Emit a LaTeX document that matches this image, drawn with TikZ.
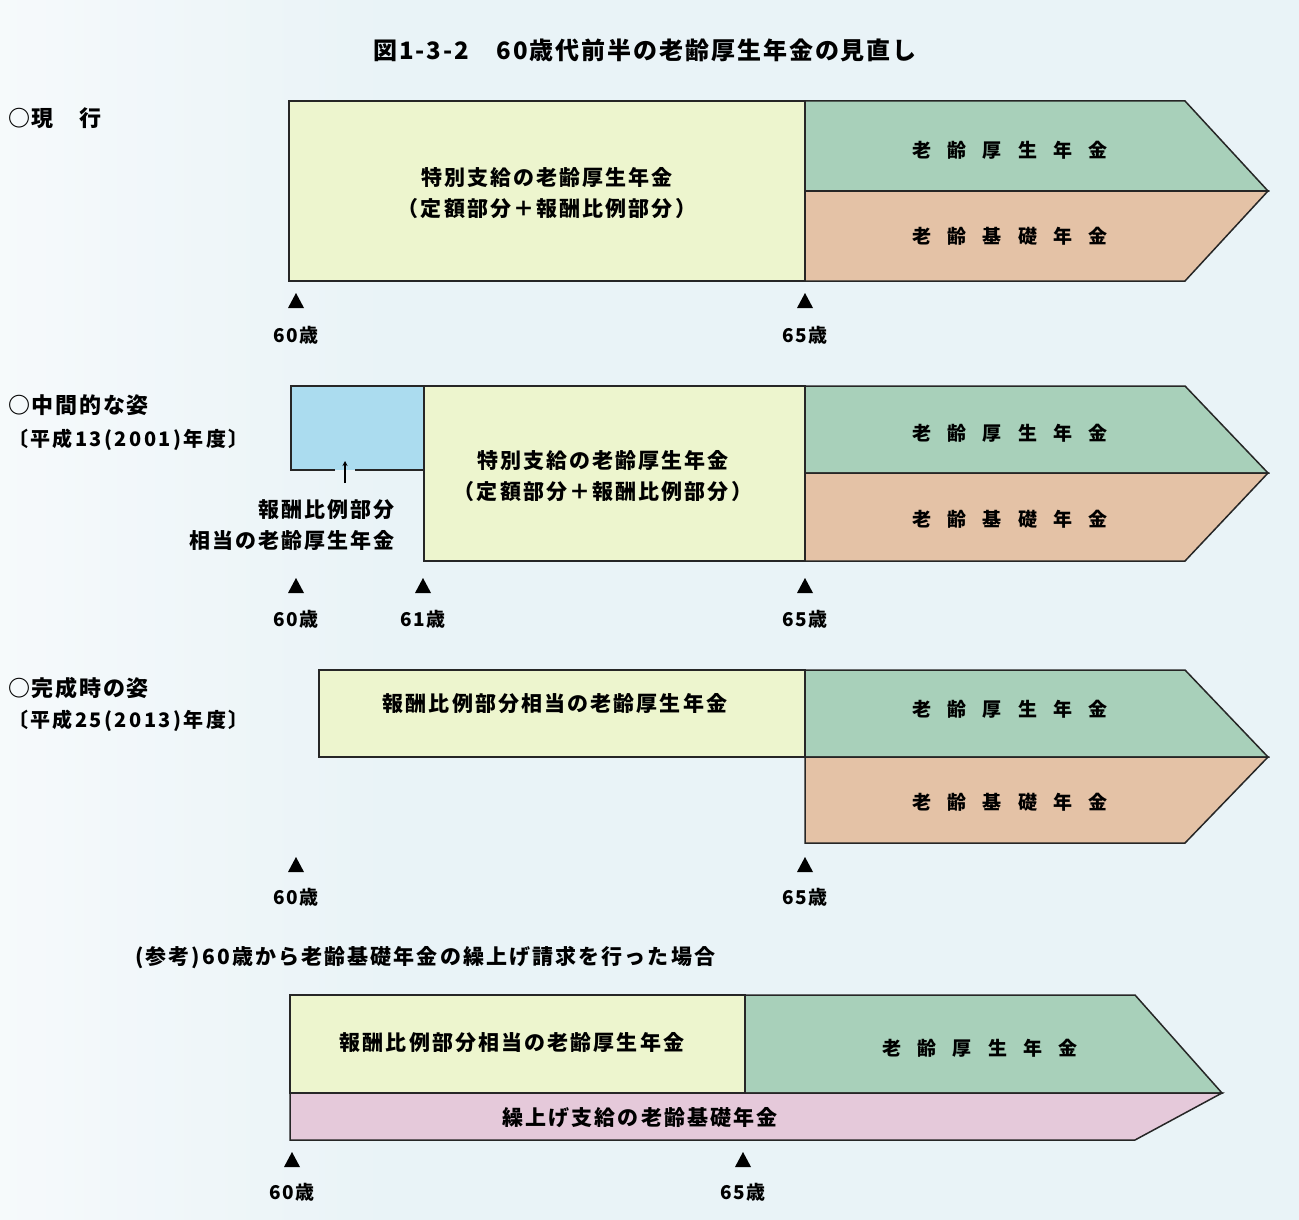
\documentclass[tikz,border=0pt]{standalone}
\usepackage{fontspec}
\setmainfont{Noto Sans CJK JP}
\usetikzlibrary{arrows.meta}
\definecolor{bg}{HTML}{E9F3F7}
\definecolor{ylw}{HTML}{EDF5CE}
\definecolor{grn}{HTML}{A8D0BA}
\definecolor{org}{HTML}{E4C2A6}
\definecolor{blu}{HTML}{ABDCEF}
\definecolor{pnk}{HTML}{E5C9DA}
\newcommand\wsp{\hspace{0.85em}}
\newcommand\ls[1]{\addfontfeature{LetterSpace=#1}}
\tikzset{
  box/.style={draw=black!85, line width=1.5pt, line join=miter},
  lbl/.style={font=\fontsize{21}{24}\selectfont\bfseries\ls{10}, inner sep=0pt},
  wide/.style={font=\fontsize{19}{22}\selectfont\bfseries, inner sep=0pt},
  side/.style={font=\fontsize{22}{25}\selectfont\bfseries\ls{8}, inner sep=0pt, anchor=west},
  sideb/.style={font=\fontsize{20}{23}\selectfont\bfseries\ls{12}, inner sep=0pt, anchor=west},
  age/.style={font=\fontsize{19}{22}\selectfont\bfseries\ls{5}, inner sep=0pt},
  tick/.style={fill=black}
}
\newcommand\tri[2]{\fill[tick] (#1-8,#2) -- (#1+8,#2) -- (#1,#2-15) -- cycle;}
\begin{document}
\begin{tikzpicture}[x=1pt,y=-1pt]
\useasboundingbox (0,0) rectangle (1299,1220);
\fill[bg] (0,0) rectangle (1299,1220);
\shade[left color=white, right color=bg, opacity=0.6] (0,0) rectangle (400,1220);

% title
\node[font=\fontsize{24}{27}\selectfont\bfseries\ls{8}, inner sep=0pt] (title) at (645,50) {図1-3-2　60歳代前半の老齢厚生年金の見直し};

% ---------- section 1
\node[side] (s1) at (8,118) {○現　行};
\draw[box, fill=ylw] (289,101) rectangle (805,281);
\draw[box, fill=grn] (805,101) -- (1185,101) -- (1268,191) -- (805,191) -- cycle;
\draw[box, fill=org] (805,191) -- (1268,191) -- (1185,281) -- (805,281) -- cycle;
\node[lbl, align=center] (a1) at (547,193) {特別支給の老齢厚生年金\\[7pt]（定額部分＋報酬比例部分）};
\node[wide] (a2) at (1010,150) {老\wsp 齢\wsp 厚\wsp 生\wsp 年\wsp 金};
\node[wide] (a3) at (1010,236) {老\wsp 齢\wsp 基\wsp 礎\wsp 年\wsp 金};
\tri{296}{308}\tri{805}{308}
\node[age] (a60) at (296,335) {60歳};
\node[age] (a65) at (805,335) {65歳};

% ---------- section 2
\node[side] (s2) at (8,405) {○中間的な姿};
\node[sideb] (s2b) at (8,440) {〔平成13(2001)年度〕};
\fill[blu] (291,386) rectangle (424,470);
\draw[box] (335,470) -- (291,470) -- (291,386) -- (424,386);
\draw[box] (355,470) -- (424,470);
\draw[box, fill=ylw] (424,386) rectangle (805,561);
\draw[box, fill=grn] (805,386) -- (1185,386) -- (1268,473) -- (805,473) -- cycle;
\draw[box, fill=org] (805,473) -- (1268,473) -- (1185,561) -- (805,561) -- cycle;
\node[lbl, align=center] (b1) at (603,476) {特別支給の老齢厚生年金\\[7pt]（定額部分＋報酬比例部分）};
\node[wide] (b2) at (1010,433) {老\wsp 齢\wsp 厚\wsp 生\wsp 年\wsp 金};
\node[wide] (b3) at (1010,519) {老\wsp 齢\wsp 基\wsp 礎\wsp 年\wsp 金};
\node[lbl, align=right, anchor=east] (b4) at (395,525) {報酬比例部分\\[7pt]相当の老齢厚生年金};
\coordinate (b5s) at (345,483);
\coordinate (b5e) at (345,461);
\draw[line width=1.2pt, -{Stealth[length=5pt,width=5pt]}] (b5s) -- (b5e);
\tri{296}{593}\tri{423}{593}\tri{805}{593}
\node[age] (b60) at (296,619) {60歳};
\node[age] (b61) at (423,619) {61歳};
\node[age] (b65) at (805,619) {65歳};

% ---------- section 3
\node[side] (s3) at (8,688) {○完成時の姿};
\node[sideb] (s3b) at (8,721) {〔平成25(2013)年度〕};
\draw[box, fill=ylw] (319,670) rectangle (805,757);
\draw[box, fill=grn] (805,670) -- (1185,670) -- (1268,757) -- (805,757) -- cycle;
\draw[box, fill=org] (805,757) -- (1268,757) -- (1185,843) -- (805,843) -- cycle;
\node[lbl] (c1) at (555,704) {報酬比例部分相当の老齢厚生年金};
\node[wide] (c2) at (1010,709) {老\wsp 齢\wsp 厚\wsp 生\wsp 年\wsp 金};
\node[wide] (c3) at (1010,802) {老\wsp 齢\wsp 基\wsp 礎\wsp 年\wsp 金};
\tri{296}{872}\tri{805}{872}
\node[age] (c60) at (296,897) {60歳};
\node[age] (c65) at (805,897) {65歳};

% ---------- section 4
\node[lbl, anchor=west] (d0) at (135,958) {(参考)60歳から老齢基礎年金の繰上げ請求を行った場合};
\draw[box, fill=ylw] (290,995) rectangle (745,1093);
\draw[box, fill=grn] (745,995) -- (1135,995) -- (1222,1093) -- (745,1093) -- cycle;
\draw[box, fill=pnk] (290,1093) -- (1222,1093) -- (1135,1140) -- (290,1140) -- cycle;
\node[lbl] (d1) at (512,1043) {報酬比例部分相当の老齢厚生年金};
\node[wide] (d2) at (980,1048) {老\wsp 齢\wsp 厚\wsp 生\wsp 年\wsp 金};
\node[lbl] (d3) at (640,1118) {繰上げ支給の老齢基礎年金};
\tri{292}{1167}\tri{743}{1167}
\node[age] (d60) at (292,1192) {60歳};
\node[age] (d65) at (743,1192) {65歳};
\end{tikzpicture}
\end{document}
